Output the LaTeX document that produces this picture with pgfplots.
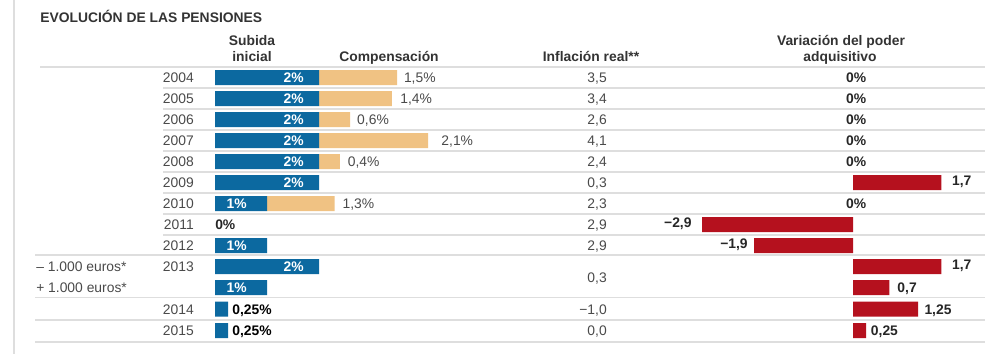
\documentclass[border=0pt]{standalone}
\usepackage{fontspec}
\setmainfont{Liberation Sans}
\usepackage{pgfplots}
\pgfplotsset{compat=1.18}
\usepackage{pgfplotstable}
\definecolor{pblue}{HTML}{0C69A0}
\definecolor{ptan}{HTML}{F0C283}
\definecolor{pred}{HTML}{B5111E}
\definecolor{ptxt}{HTML}{333333}
\definecolor{pgrey}{HTML}{4A4A4A}
\definecolor{pline}{HTML}{DEDEDE}
\newcommand\tf{\fontsize{10.4}{12.5}\selectfont}

% y = row centre in pixels (0 = top of picture)
\pgfplotstableread{
y     sub   comp
77.5  2     1.5
98.5  2     1.4
119.5 2     0.6
140.5 2     2.1
161.5 2     0.4
182.5 2     0
203.5 1     1.3
224.5 0     0
245.5 1     0
266.5 2     0
287.5 1     0
309   0.25  0
330.5 0.25  0
}\leftdata

\pgfplotstableread{
y     val
182.5 1.7
224.5 -2.9
245.5 -1.9
266.5 1.7
287.5 0.7
309   1.25
330.5 0.25
}\reddata

\pgfplotsset{panel/.style={width=750pt,height=265.5pt,scale only axis,
  at={(0pt,0pt)},anchor=south west,ymin=0,ymax=354,y dir=reverse,
  hide axis,clip=false,enlargelimits=false}}

\begin{document}
\begin{tikzpicture}
\useasboundingbox (0,0) rectangle (750pt,265.5pt);

% ---------- left bars: subida inicial + compensación ----------
\begin{axis}[panel,xmin=-4.134615,xmax=15.096154,xbar stacked,bar width=11.25pt]
\addplot[fill=pblue,draw=none] table[x=sub,y=y]{\leftdata};
\addplot[fill=ptan,draw=none] table[x=comp,y=y]{\leftdata};
\foreach \xx/\yy/\v in {3.63/77.5/{1,5},3.56/98.5/{1,4},2.73/119.5/{0,6},4.35/140.5/{2,1},2.55/161.5/{0,4},2.45/203.5/{1,3}}{
  \edef\tmp{\noexpand\node[anchor=base west,inner sep=0pt,text=pgrey,font=\noexpand\tf] at (axis cs:\xx,\yy+5) {\v\noexpand\%};}\tmp}
\node[anchor=base west,inner sep=0pt,text=black!85,font=\tf\bfseries] at (axis cs:0,229.5) {0\%};
\node[anchor=base west,inner sep=0pt,text=black,font=\tf\bfseries] at (axis cs:0.33,314) {0,25\%};
\node[anchor=base west,inner sep=0pt,text=black,font=\tf\bfseries] at (axis cs:0.33,335.5) {0,25\%};
\end{axis}

% ---------- right bars: variación del poder adquisitivo ----------
\begin{axis}[panel,xmin=-16.403846,xmax=2.826923,xbar,bar width=11.25pt]
\addplot[fill=pred,draw=none] table[x=val,y=y]{\reddata};
\foreach \yy in {77.5,98.5,119.5,140.5,161.5,203.5}{
  \edef\tmp{\noexpand\node[anchor=base,inner sep=0pt,text=black!85,font=\noexpand\tf\noexpand\bfseries] at (axis cs:0.06,\yy+5) {0\noexpand\%};}\tmp}
\foreach \xx/\yy/\v in {1.9/180.5/{1,7},1.9/264.5/{1,7},0.85/287.5/{0,7},1.37/309/{1,25},0.34/330.5/{0,25}}{
  \edef\tmp{\noexpand\node[anchor=base west,inner sep=0pt,text=black!85,font=\noexpand\tf\noexpand\bfseries] at (axis cs:\xx,\yy+5) {\v};}\tmp}
\foreach \xx/\yy/\v in {-3.1/222.5/{−2,9},-2.02/243.5/{−1,9}}{
  \edef\tmp{\noexpand\node[anchor=base east,inner sep=0pt,text=black!85,font=\noexpand\tf\noexpand\bfseries] at (axis cs:\xx,\yy+5) {\v};}\tmp}
\end{axis}

% ---------- canvas: text and rules, pixel coordinates (drawn last) ----------
\begin{axis}[panel,xmin=0,xmax=1000]
\draw[pline,line width=0.9pt] (axis cs:14,0) -- (axis cs:14,354);
\draw[pline,line width=0.9pt] (axis cs:40,67) -- (axis cs:985,67);
\pgfplotsinvokeforeach{88,109,130,151,172,193,214,235}{
  \draw[pline,line width=0.9pt] (axis cs:163,#1) -- (axis cs:985,#1);}
\pgfplotsinvokeforeach{255,297.5,320,342}{
  \draw[pline,line width=0.9pt] (axis cs:35,#1) -- (axis cs:985,#1);}
\node[anchor=base west,inner sep=0pt,text=ptxt,font=\tf\bfseries] at (axis cs:40,22.7) {EVOLUCIÓN DE LAS PENSIONES};
\node[anchor=base,inner sep=0pt,text=ptxt,font=\tf\bfseries] at (axis cs:252,45.3) {Subida};
\node[anchor=base,inner sep=0pt,text=ptxt,font=\tf\bfseries] at (axis cs:252,61) {inicial};
\node[anchor=base,inner sep=0pt,text=ptxt,font=\tf\bfseries] at (axis cs:389,61) {Compensación};
\node[anchor=base,inner sep=0pt,text=ptxt,font=\tf\bfseries] at (axis cs:591,61) {Inflación real**};
\node[anchor=base,inner sep=0pt,text=ptxt,font=\tf\bfseries] at (axis cs:841,45.3) {Variación del poder};
\node[anchor=base,inner sep=0pt,text=ptxt,font=\tf\bfseries] at (axis cs:840,61) {adquisitivo};
% white labels inside the blue bars
\foreach \yy in {77.5,98.5,119.5,140.5,161.5,182.5,266.5}{
  \edef\tmp{\noexpand\node[anchor=base east,inner sep=0pt,text=white,font=\noexpand\tf\noexpand\bfseries] at (axis cs:304,\yy+5) {2\noexpand\%};}\tmp}
\foreach \yy in {203.5,245.5,287.5}{
  \edef\tmp{\noexpand\node[anchor=base east,inner sep=0pt,text=white,font=\noexpand\tf\noexpand\bfseries] at (axis cs:247,\yy+5) {1\noexpand\%};}\tmp}
% years
\foreach \yy/\yr in {77.5/2004,98.5/2005,119.5/2006,140.5/2007,161.5/2008,182.5/2009,203.5/2010,224.5/2011,245.5/2012,266.5/2013,309/2014,330.5/2015}{
  \edef\tmp{\noexpand\node[anchor=base east,inner sep=0pt,text=pgrey,font=\noexpand\tf] at (axis cs:194,\yy+5) {\yr};}\tmp}
% inflation
\foreach \yy/\v in {77.5/{3,5},98.5/{3,4},119.5/{2,6},140.5/{4,1},161.5/{2,4},182.5/{0,3},203.5/{2,3},224.5/{2,9},245.5/{2,9},277/{0,3},309/{−1,0},330.5/{0,0}}{
  \edef\tmp{\noexpand\node[anchor=base east,inner sep=0pt,text=pgrey,font=\noexpand\tf] at (axis cs:607,\yy+5) {\v};}\tmp}
\node[anchor=base west,inner sep=0pt,text=pgrey,font=\tf] at (axis cs:36,271.5) {– 1.000 euros*};
\node[anchor=base west,inner sep=0pt,text=pgrey,font=\tf] at (axis cs:36,292) {+ 1.000 euros*};
\end{axis}
\end{tikzpicture}
\end{document}
